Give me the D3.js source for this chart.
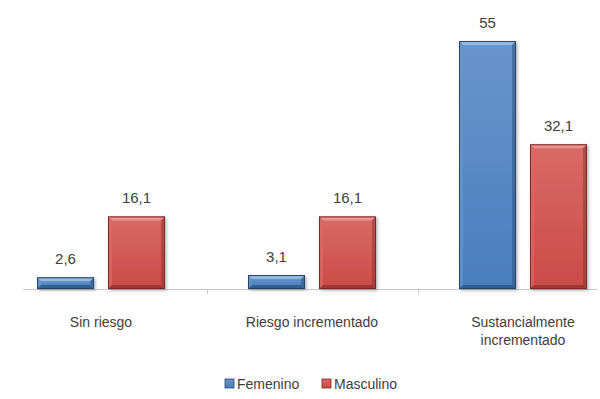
<!DOCTYPE html>
<html>
<head>
<meta charset="utf-8">
<script src="https://cdn.jsdelivr.net/npm/d3@7"></script>
<style>
  body { margin: 0; background: #fff; }
  text { font-family: "Liberation Sans", Arial, sans-serif; fill: #404040; }
</style>
</head>
<body>
<svg id="chart" width="600" height="399"></svg>
<script>
// chart data
const categories = ["Sin riesgo", "Riesgo incrementado", "Sustancialmente incrementado"];
const seriesNames = ["Femenino", "Masculino"];
const femenino = [2.6, 3.1, 55];
const masculino = [16.1, 16.1, 32.1];

const svg = d3.select("#chart");
const baseY = 289;

// x scale: one band per category (the left band is partly cut off in the original)
const x = d3.scaleBand()
  .domain(categories)
  .range([-4.5, 628.5])
  .paddingInner(0)
  .paddingOuter(0);

const xSeries = d3.scaleBand()
  .domain(seriesNames)
  .range([0, x.bandwidth()])
  .paddingInner(0.197)
  .paddingOuter(0.585);

const y = d3.scaleLinear()
  .domain([0, 60])
  .range([baseY, 18.5]);

const colors = {
  "Femenino": { light: "#6a95cb", mid: "#4a7dbd", dark: "#2c5587", edge: "#24456f", top: "#9bbbe3" },
  "Masculino": { light: "#d96a67", mid: "#c94b48", dark: "#953532", edge: "#7a2a28", top: "#e89a98" }
};

const defs = svg.append("defs");
seriesNames.forEach((s, i) => {
  const g = defs.append("linearGradient").attr("id", "grad" + i)
    .attr("x1", 0).attr("x2", 0).attr("y1", 0).attr("y2", 1);
  g.append("stop").attr("offset", "0%").attr("stop-color", colors[s].light);
  g.append("stop").attr("offset", "100%").attr("stop-color", colors[s].mid);
});
const shadow = defs.append("filter").attr("id", "shadow")
  .attr("x", "-20%").attr("y", "-20%").attr("width", "140%").attr("height", "140%");
shadow.append("feDropShadow").attr("dx", 1.5).attr("dy", 1.5).attr("stdDeviation", 1.5)
  .attr("flood-color", "#000").attr("flood-opacity", 0.3);

// rows of bar data built from the arrays
const rows = [];
categories.forEach((c, i) => {
  rows.push({ cat: c, series: "Femenino", idx: 0, value: femenino[i] });
  rows.push({ cat: c, series: "Masculino", idx: 1, value: masculino[i] });
});

// axis line and tick marks
svg.append("line")
  .attr("x1", 23).attr("x2", 597)
  .attr("y1", baseY + 0.5).attr("y2", baseY + 0.5)
  .attr("stroke", "#c8c8c8").attr("stroke-width", 1);

categories.slice(1).forEach(c => {
  const tx = Math.round(x(c)) + 0.5;
  svg.append("line")
    .attr("x1", tx).attr("x2", tx)
    .attr("y1", baseY).attr("y2", baseY + 5)
    .attr("stroke", "#c8c8c8");
});

// bars with bevel look
const bev = 4;
const bars = svg.append("g").selectAll("g.bar")
  .data(rows)
  .join("g")
  .attr("class", "bar")
  .attr("filter", "url(#shadow)");

bars.each(function(d) {
  const g = d3.select(this);
  const x0 = x(d.cat) + xSeries(d.series);
  const w = xSeries.bandwidth();
  const y0 = y(d.value);
  const h = baseY - y0;
  const c = colors[d.series];
  const b = Math.min(bev, h / 2);

  g.append("rect")
    .attr("x", x0).attr("y", y0)
    .attr("width", w).attr("height", h)
    .attr("fill", "url(#grad" + d.idx + ")");

  // top bevel
  g.append("polygon")
    .attr("points", [[x0, y0], [x0 + w, y0], [x0 + w - b, y0 + b], [x0 + b, y0 + b]].join(" "))
    .attr("fill", c.top).attr("opacity", 0.9);
  // left bevel
  g.append("polygon")
    .attr("points", [[x0, y0], [x0 + b, y0 + b], [x0 + b, baseY - b], [x0, baseY]].join(" "))
    .attr("fill", c.light).attr("opacity", 0.7);
  // right bevel
  g.append("polygon")
    .attr("points", [[x0 + w, y0], [x0 + w - b, y0 + b], [x0 + w - b, baseY - b], [x0 + w, baseY]].join(" "))
    .attr("fill", c.dark).attr("opacity", 0.55);
  // bottom bevel
  g.append("polygon")
    .attr("points", [[x0, baseY], [x0 + b, baseY - b], [x0 + w - b, baseY - b], [x0 + w, baseY]].join(" "))
    .attr("fill", c.dark).attr("opacity", 0.8);

  g.append("rect")
    .attr("x", x0 + 0.5).attr("y", y0 + 0.5)
    .attr("width", w - 1).attr("height", h - 1)
    .attr("fill", "none").attr("stroke", c.edge).attr("stroke-width", 1);
});

// value labels
svg.append("g").selectAll("text")
  .data(rows)
  .join("text")
  .attr("x", d => x(d.cat) + xSeries(d.series) + xSeries.bandwidth() / 2)
  .attr("y", d => y(d.value) - 13)
  .attr("text-anchor", "middle")
  .attr("font-size", 15)
  .text(d => String(d.value).replace(".", ","));

// category labels (long one wraps on two lines)
const catLines = {
  "Sin riesgo": ["Sin riesgo"],
  "Riesgo incrementado": ["Riesgo incrementado"],
  "Sustancialmente incrementado": ["Sustancialmente", "incrementado"]
};
categories.forEach(c => {
  const t = svg.append("text")
    .attr("x", x(c) + x.bandwidth() / 2)
    .attr("y", 327)
    .attr("text-anchor", "middle")
    .attr("font-size", 14);
  catLines[c].forEach((line, i) => {
    t.append("tspan")
      .attr("x", x(c) + x.bandwidth() / 2)
      .attr("dy", i === 0 ? 0 : 18)
      .text(line);
  });
});

// legend
const legendX = [225, 322];
const legend = svg.append("g").selectAll("g")
  .data(seriesNames)
  .join("g")
  .attr("transform", (d, i) => `translate(${legendX[i]},379)`);

legend.append("rect")
  .attr("width", 9).attr("height", 9)
  .attr("fill", (d, i) => "url(#grad" + i + ")")
  .attr("stroke", d => colors[d].edge).attr("stroke-width", 0.8);

legend.append("text")
  .attr("x", 12).attr("y", 10)
  .attr("font-size", 14)
  .text(d => d);
</script>
</body>
</html>
